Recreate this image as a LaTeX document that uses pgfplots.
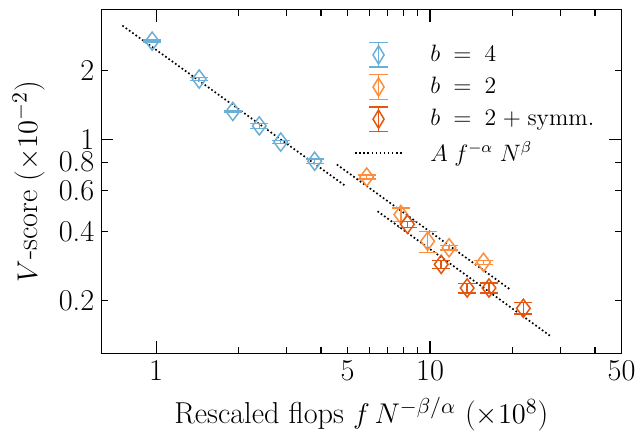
\documentclass[border=0pt]{standalone}
\usepackage{pgfplots}
\pgfplotsset{compat=1.18}

\definecolor{cb}{HTML}{6BAED6}
\definecolor{co}{HTML}{FD8D3C}
\definecolor{cd}{HTML}{E6550D}

\pgfplotsset{
  errleg/.style={legend image code/.code={
    \draw[##1] (11.75pt,-6.2pt) -- (11.75pt,6.2pt);
    \draw[##1] (7.1pt,-6.2pt) -- (16.4pt,-6.2pt);
    \draw[##1] (7.1pt,6.2pt) -- (16.4pt,6.2pt);
    \draw[##1] (11.75pt,4.6pt) -- (14.55pt,0pt) -- (11.75pt,-4.6pt) -- (8.95pt,0pt) -- cycle;
  }},
  fitleg/.style={legend image code/.code={
    \draw[##1] (0pt,0pt) -- (23.5pt,0pt);
  }},
  series/.style={
    color=#1, line width=0.75pt, only marks,
    mark=diamond, mark size=4.6pt,
    /pgfplots/error bars/y dir=both,
    /pgfplots/error bars/y explicit,
    /pgfplots/error bars/error bar style={line width=0.75pt, color=#1},
    /pgfplots/error bars/error mark options={line width=0.75pt, color=#1, mark size=4.6pt, rotate=90},
  },
  fit/.style={black, line width=0.85pt, dash pattern=on 0.85pt off 1.2pt, no marks},
}

\begin{document}
\begin{tikzpicture}
\begin{axis}[
    scale only axis,
    width=263pt, height=173.65pt,
    xmode=log, ymode=log,
    xmin=0.63, xmax=50, ymin=0.1175, ymax=3.68,
    xtick={1,10}, xticklabels={1,10},
    extra x ticks={5,50}, extra x tick labels={5,50},
    extra x tick style={major tick length=3.25pt},
    minor xtick={2,3,4,6,7,8,9,20,30,40},
    ytick={1}, yticklabels={1},
    extra y ticks={0.2,0.4,0.6,0.8,2}, extra y tick labels={0.2,0.4,0.6,0.8,2},
    extra y tick style={major tick length=3.25pt},
    minor ytick={},
    major tick length=6.2pt, minor tick length=3.25pt,
    tick style={black, line width=0.6pt},
    axis line style={line width=0.6pt},
    tick label style={font=\fontsize{15.3}{18}\selectfont},
    label style={font=\fontsize{15.3}{18}\selectfont},
    xlabel={Rescaled flops $f\,N^{-\beta/\alpha}$ ($\times10^{8}$)},
    ylabel={$V$-score ($\times10^{-2}$)},
    xlabel style={at={(axis description cs:0.5,-0.2036)}, anchor=base},
    ylabel style={at={(axis description cs:-0.1394,0.5)}, anchor=center},
    legend style={draw=none, fill=none, at={(axis description cs:0.486,0.91)},
      anchor=north west, font=\fontsize{12}{14}\selectfont, row sep=2.4pt,
      column sep=12pt, inner sep=0pt},
    legend cell align=left,
]
\addplot[fit, forget plot] coordinates {(0.753,3.145) (4.865,0.635)};
\addplot[fit, forget plot] coordinates {(4.567,0.781) (19.78,0.2215)};
\addplot[fit, forget plot] coordinates {(6.43,0.489) (27.6,0.1395)};

\addplot[errleg, series=cb] coordinates {
  (0.967,2.69) +- (0,0.027)
  (1.436,1.84) +- (0,0.031)
  (1.905,1.33) +- (0,0.008)
  (2.38,1.15) +- (0,0.029)
  (2.85,0.978) +- (0,0.015)
  (3.79,0.807) +- (0,0.019)
};
\addlegendentry{$b\;=\;4$}
\addplot[errleg, series=co] coordinates {
  (5.87,0.689) +- (0,0.014)
  (7.82,0.473) +- (0,0.031)
  (9.80,0.362) +- (0,0.038)
  (11.73,0.339) +- (0,0.007)
  (15.67,0.293) +- (0,0.006)
};
\addlegendentry{$b\;=\;2$}
\addplot[errleg, series=cd] coordinates {
  (8.27,0.429) +- (0,0.013)
  (10.98,0.287) +- (0,0.011)
  (13.66,0.2265) +- (0,0.011)
  (16.41,0.2265) +- (0,0.0115)
  (21.91,0.1848) +- (0,0.0107)
};
\addlegendentry{$b\;=\;2\;+\;$symm.}
\addlegendimage{fit, fitleg}
\addlegendentry{$A\;f^{-\alpha}\;N^{\beta}$}
\end{axis}
\path (current axis.south west) +(-51.15pt,-36.85pt);
\path (current axis.north east) +(6.85pt,5pt);
\end{tikzpicture}
\end{document}
